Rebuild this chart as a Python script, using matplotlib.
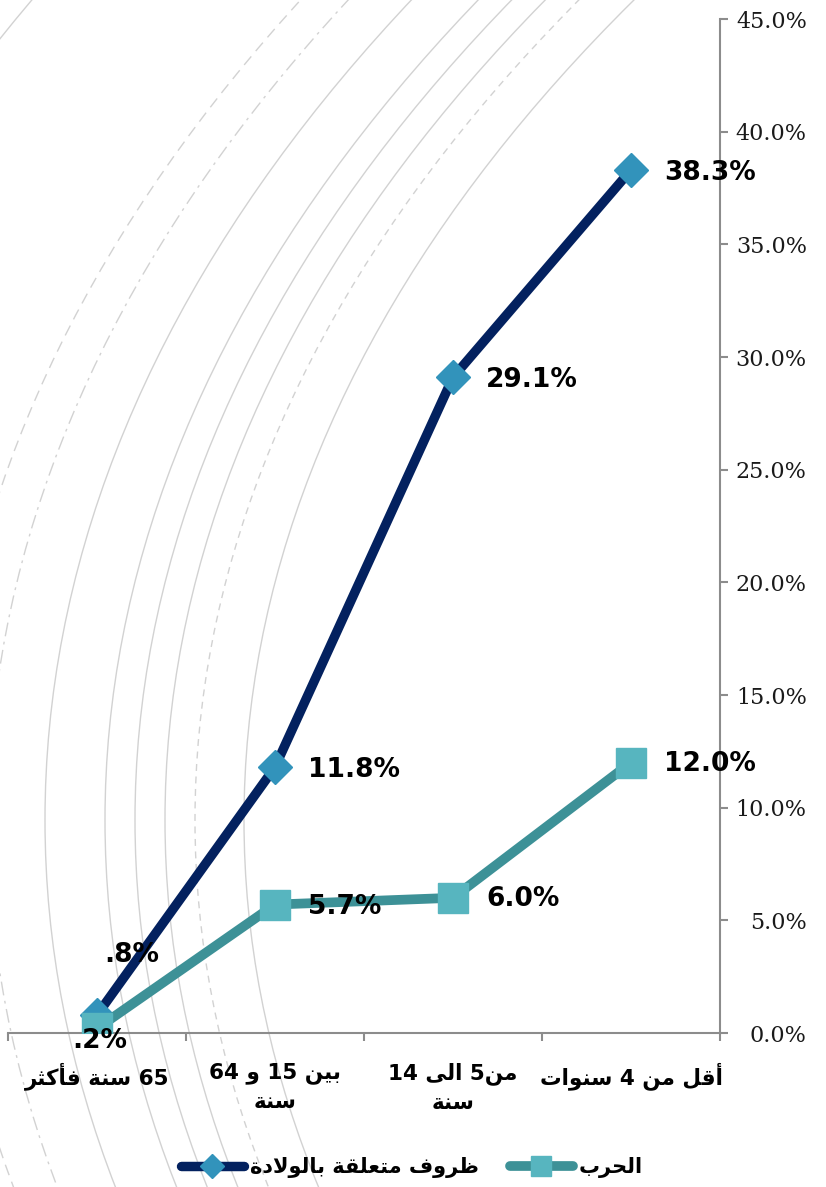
import re
import numpy as np
import matplotlib
matplotlib.use("Agg")
import matplotlib.pyplot as plt
from matplotlib.patches import Ellipse

# ---------------- data ----------------
categories = ["أقل من 4 سنوات", "من5 الى 14\nسنة", "بين 15 و 64\nسنة", "65 سنة فأكثر"]
series_names = ["ظروف متعلقة بالولادة", "الحرب"]
birth_values = [38.3, 29.1, 11.8, 0.8]
war_values = [12.0, 6.0, 5.7, 0.2]
y_ticks = [0, 5, 10, 15, 20, 25, 30, 35, 40, 45]

# ---------------- Arabic shaping (presentation forms + RTL order) ----------------
_LETTERS = "ءآأؤإئابةتثجحخدذرزسشصضطظعغفقكلمنهوىي"
_NFORMS = [1, 2, 2, 2, 2, 4, 2, 4, 2, 4, 4, 4, 4, 4, 2, 2, 2, 2, 4, 4, 4, 4, 4,
           4, 4, 4, 4, 4, 4, 4, 4, 4, 4, 2, 2, 4]
FORMS = {}
_cp = 0xFE80
for _ch, _n in zip(_LETTERS, _NFORMS):
    FORMS[_ch] = [chr(_cp + k) for k in range(_n)]
    _cp += _n
LAMALEF = {"آ": (chr(0xFEF5), chr(0xFEF6)), "أ": (chr(0xFEF7), chr(0xFEF8)),
           "إ": (chr(0xFEF9), chr(0xFEFA)), "ا": (chr(0xFEFB), chr(0xFEFC))}


def _dual(c):
    return c in FORMS and len(FORMS[c]) == 4


def shape_ar(text):
    out = []
    n = len(text)
    i = 0
    while i < n:
        c = text[i]
        if c not in FORMS:
            out.append(c)
            i += 1
            continue
        prev = text[i - 1] if i > 0 else ""
        jp = _dual(prev)
        if c == "ل" and i + 1 < n and text[i + 1] in LAMALEF:
            iso, fin = LAMALEF[text[i + 1]]
            out.append(fin if jp else iso)
            i += 2
            continue
        nxt = text[i + 1] if i + 1 < n else ""
        f = FORMS[c]
        jn = (nxt in FORMS) and len(f) == 4
        if len(f) == 1:
            out.append(f[0])
        elif len(f) == 2:
            out.append(f[1] if jp else f[0])
        else:
            if jp and jn:
                out.append(f[3])
            elif jp:
                out.append(f[1])
            elif jn:
                out.append(f[2])
            else:
                out.append(f[0])
        i += 1
    return "".join(out)


def ar(text):
    lines = []
    for line in text.split("\n"):
        rev = shape_ar(line)[::-1]
        rev = re.sub(r"[0-9A-Za-z.%]+", lambda m: m.group(0)[::-1], rev)
        lines.append(rev)
    return "\n".join(lines)


def pct_label(v):
    s = f"{v:.1f}%"
    return s[1:] if s.startswith("0") else s


# ---------------- figure ----------------
W, H = 826, 1187
fig = plt.figure(figsize=(W / 100, H / 100), dpi=100)
fig.patch.set_facecolor("white")

# decorative background arcs (theme picture)
bg = fig.add_axes([0, 0, 1, 1], zorder=0)
bg.set_xlim(0, W)
bg.set_ylim(H, 0)
bg.axis("off")
arc_center = (3711, 820)
arc_aspect = 1.948
arc_left = [-300, -55, -12, 45, 105, 135, 165, 195, 244]
arc_styles = ["-", (0, (8, 5)), (0, (10, 4, 2, 4)), "-", "-", "-", "-", (0, (5, 4)), "-"]
for xm, ls in zip(arc_left, arc_styles):
    a = arc_center[0] - xm
    b = a / arc_aspect
    bg.add_patch(Ellipse(arc_center, 2 * a, 2 * b, fill=False, ec="#d2d2d2",
                         lw=1.0, ls=ls))

# main plot
ax = fig.add_axes([8 / W, (H - 1033) / H, 712 / W, (1033 - 19) / H], zorder=1)
ax.patch.set_alpha(0)
x = np.arange(len(categories))

navy, diamond_c = "#03215f", "#3293bb"
teal, square_c = "#3d9197", "#57b5bf"

l1, = ax.plot(x, birth_values, color=navy, lw=6.8, marker="D", ms=17,
              mfc=diamond_c, mec=diamond_c, solid_joinstyle="round",
              solid_capstyle="round", label=ar(series_names[0]), zorder=3)
l2, = ax.plot(x, war_values, color=teal, lw=7, marker="s", ms=21,
              mfc=square_c, mec=square_c, solid_joinstyle="round",
              solid_capstyle="round", label=ar(series_names[1]), zorder=4)

ax.set_xlim(3.5, -0.5)
ax.set_ylim(0, 45)

for s in ["left", "top"]:
    ax.spines[s].set_visible(False)
for s in ["right", "bottom"]:
    ax.spines[s].set_color("#8c8c8c")
    ax.spines[s].set_linewidth(1.5)

# y axis on the right
ax.yaxis.tick_right()
ax.set_yticks(y_ticks)
ax.set_yticklabels([f"{v:.1f}%" for v in y_ticks], family="DejaVu Serif",
                   fontsize=16, color="#1a1a1a")
ax.tick_params(axis="y", which="major", direction="out", length=5.5, width=1.5,
               color="#8c8c8c", pad=57)
for lab in ax.get_yticklabels():
    lab.set_ha("right")

# x axis: labels at centres, ticks at boundaries
ax.set_xticks(x)
ax.set_xticklabels([ar(c) for c in categories], fontsize=15.5, fontweight="bold",
                   family="DejaVu Sans", linespacing=1.5, ha="center")
ax.tick_params(axis="x", which="major", length=0, pad=21)
ax.set_xticks(np.arange(-0.5, len(categories), 1.0), minor=True)
ax.tick_params(axis="x", which="minor", direction="out", length=6, width=1.5,
               color="#8c8c8c")

# data labels
birth_offsets = [(24, -2), (24, -2), (24, -2), (25, 43)]
birth_ha = ["left", "left", "left", "center"]
war_offsets = [(24, -1), (24, -1), (24, -2), (2, -9)]
war_ha = ["left", "left", "left", "center"]
for vals, offs, has in [(birth_values, birth_offsets, birth_ha),
                        (war_values, war_offsets, war_ha)]:
    for xi, v, off, ha in zip(x, vals, offs, has):
        ax.annotate(pct_label(v), (xi, v), xytext=off, textcoords="offset points",
                    ha=ha, va="center", fontsize=19, fontweight="bold",
                    family="DejaVu Sans", color="black", zorder=6,
                    annotation_clip=False)

# legend
leg = fig.legend(handles=[l1, l2], loc="center",
                 bbox_to_anchor=(412 / W, 1 - 1168 / H), ncol=2, frameon=False,
                 prop={"family": "DejaVu Sans", "weight": "bold", "size": 15},
                 handlelength=3.0, markerscale=0.7, columnspacing=1.5,
                 handletextpad=0.3)

fig.savefig("out.png", dpi=100)
